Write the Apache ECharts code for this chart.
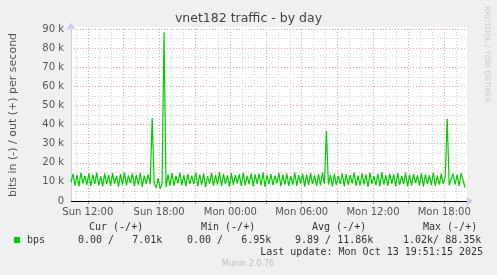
<!DOCTYPE html>
<html><head><meta charset="utf-8">
<script src="https://cdn.jsdelivr.net/npm/echarts@6/dist/echarts.min.js"></script>
<style>html,body{margin:0;padding:0;background:#F0F0F0}#c{width:497px;height:275px}</style>
</head><body><div id="c"></div>
<script>
// ---- data ----
const titleText = 'vnet182 traffic - by day';
const yAxisName = 'bits in (-) / out (+) per second';
const seriesName = 'bps';
const sampleStartHour = 10.5833;   // hours since Sun 00:00 (Sun 10:35)
const sampleStepHours = 1 / 6;      // 10-minute samples
const outBps = [
 9800,14200,8100,13600,7600,14800,9200,13100,8400,14500,7900,13800,9000,14900,8300,12900,7700,14300,8800,13500,
 8000,14600,9100,13200,7500,14100,8600,15000,8200,13400,9300,14400,7800,13700,8500,14700,7400,13300,8900,14000,
 8700,43300,9500,6800,12000,6500,9000,88350,7200,13900,8100,14600,7900,13100,9200,14800,8300,13600,7600,14100,
 8800,13300,9000,14900,7700,13800,8500,14400,7300,13000,9100,14700,8000,13500,8600,15100,7800,14200,8900,13400,
 7500,14600,8400,13700,9200,14000,7900,14800,8200,13200,8700,14500,7600,13900,9000,14300,8100,15000,7400,13600,
 8800,14100,8300,13300,9300,14700,7700,13800,8500,14400,7900,13100,8600,14900,8000,13500,9100,14200,7500,13900,
 8400,14600,8900,13400,7800,14000,8200,14800,9000,36600,8600,13700,7600,14300,8300,13200,8900,14500,7700,14100,
 8500,13600,9200,14900,7900,13300,8100,14400,8700,13800,7400,14700,9000,13100,8300,14200,7800,15000,8600,13500,
 8000,14300,9100,13900,7600,14600,8400,13200,8900,14800,7700,13700,8200,14100,9300,13400,8100,14500,7500,14000,
 8800,13600,8300,14900,7900,13300,8600,14200,9000,12800,43000,8200,7600,14400,8500,13800,7900,14600,13900,7010
];
const xMinHour = 10.5833, xMaxHour = 43.9167;
const hourGrid = [11,13,14,16,17,19,20,22,23,25,26,28,29,31,32,34,35,37,38,40,41,43];
const majorGrid = [12,15,18,21,24,27,30,33,36,39,42];
const tickHours = [12,18,24,30,36,42];
const tickLabels = ['Sun 12:00','Sun 18:00','Mon 00:00','Mon 06:00','Mon 12:00','Mon 18:00'];
const yMax = 90000, yStep = 10000;
const statHeaders = ['Cur (-/+)','Min (-/+)','Avg (-/+)','Max (-/+)'];
const statValues = ['0.00 /   7.01k','0.00 /   6.95k','9.89 / 11.86k','1.02k/ 88.35k'];
const lastUpdate = 'Last update: Mon Oct 13 19:51:15 2025';
const footer = 'Munin 2.0.76';
const sideText = 'RRDTOOL / TOBI OETIKER';

// ---- chart ----
const pts = outBps.map((v, i) => [sampleStartHour + i * sampleStepHours, v]);
const mono = 'DejaVu Sans Mono';
const sans = 'DejaVu Sans';
const headerX = [89, 201, 312, 423];
const valueX = [78, 187, 295, 403];

const gridLines = hourGrid.map(h => ({xAxis: h, lineStyle: {color: '#d2d2d2', type: [1, 2], width: 1}}))
  .concat(majorGrid.map(h => ({xAxis: h, lineStyle: {color: '#eaa5a5', type: [1, 2], width: 1}})))
  .concat([{yAxis: 0, lineStyle: {color: '#000', type: 'solid', width: 1.2}}]);

const graphics = [
  {type: 'rect', z: -1, shape: {x: 68, y: 27, width: 399, height: 2}, style: {fill: '#fff'}},
  {type: 'text', left: 'center', top: 12, style: {text: titleText, font: '12.5px ' + sans, fill: '#444'}},
  {type: 'text', x: 487, y: 6, rotation: -Math.PI / 2, style: {text: sideText, font: '7.5px ' + sans, fill: '#c8c8c8', textAlign: 'left', textVerticalAlign: 'middle'}},
  {type: 'rect', shape: {x: 14, y: 237, width: 6, height: 6}, style: {fill: '#00CC00'}},
  {type: 'text', x: 27, y: 240, style: {text: seriesName, font: '10px ' + mono, fill: '#333', textVerticalAlign: 'middle'}},
  {type: 'text', x: 483, y: 252, style: {text: lastUpdate, font: '10px ' + mono, fill: '#333', textAlign: 'right', textVerticalAlign: 'middle'}},
  {type: 'text', x: 248, y: 264, style: {text: footer, font: '8px ' + sans, fill: '#bbb', textAlign: 'center', textVerticalAlign: 'middle'}}
];
statHeaders.forEach((t, i) => graphics.push({type: 'text', x: headerX[i], y: 227, style: {text: t, font: '10px ' + mono, fill: '#333', textVerticalAlign: 'middle'}}));
statValues.forEach((t, i) => graphics.push({type: 'text', x: valueX[i], y: 240, style: {text: t, font: '10px ' + mono, fill: '#333', textVerticalAlign: 'middle'}}));

const chart = echarts.init(document.getElementById('c'), null, {renderer: 'canvas'});
chart.setOption({
  backgroundColor: '#F0F0F0',
  animation: false,
  textStyle: {fontFamily: sans},
  grid: {left: 67, top: 29, width: 400, height: 172, show: true, backgroundColor: '#fff', borderWidth: 0},
  xAxis: {
    type: 'value', min: xMinHour, max: xMaxHour,
    axisLine: {show: true, onZero: false, lineStyle: {color: '#c8c8f0'}, symbol: ['none', 'arrow'], symbolSize: [7, 7], symbolOffset: [0, 6]},
    axisTick: {show: true, customValues: majorGrid, length: 3, inside: false, lineStyle: {color: '#e08080'}},
    axisLabel: {customValues: tickHours, margin: 6, fontSize: 10, color: '#555', fontFamily: sans,
      formatter: v => { const k = tickHours.indexOf(Math.round(v)); return k >= 0 ? tickLabels[k] : ''; }},
    splitLine: {show: false}
  },
  yAxis: {
    type: 'value', min: 0, max: yMax, interval: yStep,
    name: yAxisName, nameLocation: 'middle', nameGap: 52, nameRotate: 90,
    nameTextStyle: {fontSize: 11, color: '#555', fontFamily: sans},
    axisLine: {show: true, lineStyle: {color: '#c8c8f0'}, symbol: ['none', 'arrow'], symbolSize: [7, 7], symbolOffset: [0, 6]},
    axisTick: {show: false},
    axisLabel: {margin: 7, fontSize: 10, color: '#555', fontFamily: sans, formatter: v => v === 0 ? '0' : (v / 1000) + ' k'},
    splitLine: {show: true, lineStyle: {color: '#eaa5a5', type: [1, 2]}},
    minorTick: {show: false, splitNumber: 2},
    minorSplitLine: {show: true, lineStyle: {color: '#d2d2d2', type: [1, 2]}}
  },
  series: [
    {type: 'line', data: [], silent: true,
     markLine: {silent: true, symbol: 'none', label: {show: false}, animation: false, data: gridLines}},
    {type: 'line', name: seriesName, data: pts, showSymbol: false, symbol: 'none',
     lineStyle: {color: '#00CC00', width: 1.2}, z: 5}
  ],
  graphic: graphics
});
</script></body></html>
